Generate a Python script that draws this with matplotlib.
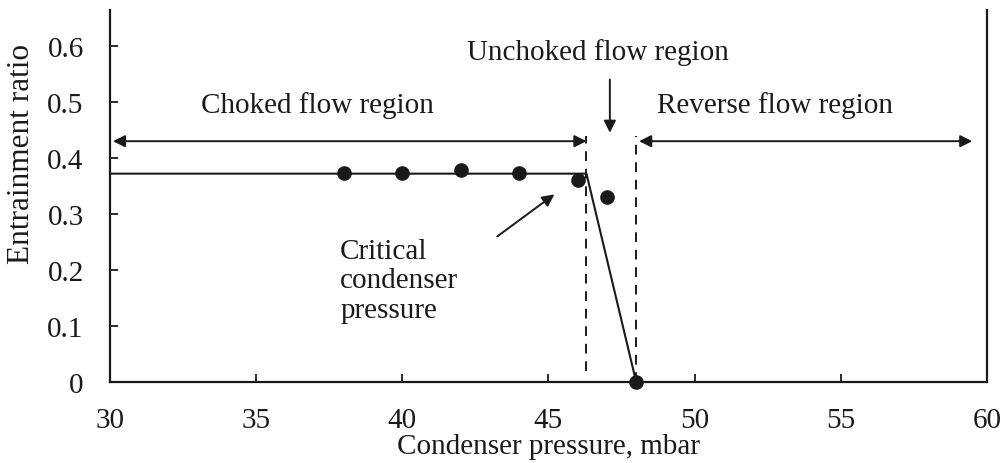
import matplotlib
matplotlib.use("Agg")
import matplotlib.pyplot as plt

plt.rcParams['font.family'] = ['Liberation Serif', 'DejaVu Serif']

# measured points
pressure = [38, 40, 42, 44, 46, 47, 48]
ratio = [0.373, 0.374, 0.379, 0.374, 0.360, 0.330, 0.0]

# fitted line (choked plateau then drop)
line_x = [30, 46.3, 48]
line_y = [0.372, 0.372, 0.0]

critical_p = 46.3
breakdown_p = 48

fig = plt.figure(figsize=(10.04, 4.64), dpi=100)
ax = fig.add_axes([0.1096, 0.1746, 0.8734, 0.8014])

ax.plot(line_x, line_y, color='#1a1a1a', linewidth=1.5, zorder=2)
ax.plot(pressure, ratio, 'o', color='#1a1a1a', markersize=9.5, zorder=3, clip_on=False)

ax.plot([critical_p, critical_p], [0.02, 0.44], color='#1a1a1a', linestyle=(0, (5, 4)), linewidth=1.4)
ax.plot([breakdown_p, breakdown_p], [0.0, 0.44], color='#1a1a1a', linestyle=(0, (5, 4)), linewidth=1.4)

arrow = dict(arrowstyle='<|-|>', color='#1a1a1a', linewidth=1.4, mutation_scale=18, shrinkA=0, shrinkB=0)
ax.annotate('', xy=(30.1, 0.43), xytext=(critical_p, 0.43), arrowprops=arrow)
ax.annotate('', xy=(breakdown_p + 0.1, 0.43), xytext=(59.5, 0.43), arrowprops=arrow)

single = dict(arrowstyle='-|>', color='#1a1a1a', linewidth=1.4, mutation_scale=18, shrinkA=0, shrinkB=0)
ax.annotate('', xy=(47.1, 0.445), xytext=(47.1, 0.54), arrowprops=single)
ax.annotate('', xy=(45.2, 0.335), xytext=(43.25, 0.26), arrowprops=single)

fs = 21
ax.text(37.1, 0.496, 'Choked flow region', fontsize=fs, ha='center', va='center', color='#1a1a1a')
ax.text(46.7, 0.59, 'Unchoked flow region', fontsize=fs, ha='center', va='center', color='#1a1a1a')
ax.text(52.75, 0.495, 'Reverse flow region', fontsize=fs, ha='center', va='center', color='#1a1a1a')
ax.text(37.87, 0.257, 'Critical\ncondenser\npressure', fontsize=fs, ha='left', va='top',
        linespacing=1.17, color='#1a1a1a')

ax.set_xlim(30, 60)
ax.set_ylim(0, 0.664)
ax.set_xticks([30, 35, 40, 45, 50, 55, 60])
ax.set_xticklabels(['30', '35', '40', '45', '50', '55', '60'])
ax.set_yticks([0, 0.1, 0.2, 0.3, 0.4, 0.5, 0.6])
ax.set_yticklabels(['0', '0.1', '0.2', '0.3', '0.4', '0.5', '0.6'])
ax.tick_params(direction='in', length=6, width=1.3, labelsize=fs, colors='#1a1a1a')
ax.tick_params(axis='x', pad=18)
ax.tick_params(axis='y', pad=19)
ax.spines['top'].set_visible(False)
for s in ['left', 'right', 'bottom']:
    ax.spines[s].set_linewidth(1.6)
    ax.spines[s].set_color('#1a1a1a')

ax.set_xlabel('Condenser pressure, mbar', fontsize=fs, labelpad=0, color='#1a1a1a')
ax.set_ylabel('Entrainment ratio', fontsize=22.5, color='#1a1a1a')
ax.yaxis.set_label_coords(-0.084, 0.615)

fig.savefig('out.png', dpi=100)
